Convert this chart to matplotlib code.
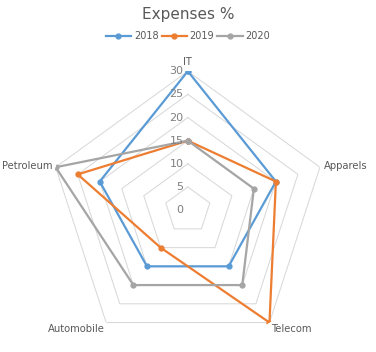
import numpy as np
import matplotlib.pyplot as plt
from matplotlib.transforms import offset_copy

# Datos
categories = ["IT", "Apparels", "Telecom", "Automobile", "Petroleum"]
years = ["2018", "2019", "2020"]
values_2018 = [30, 20, 15, 15, 20]
values_2019 = [15, 20, 30, 10, 25]
values_2020 = [15, 15, 20, 20, 30]
ticks = [0, 5, 10, 15, 20, 25, 30]
colors = ["#5B9BD5", "#ED7D31", "#A5A5A5"]

# Ángulos: IT arriba, sentido horario
n = len(categories)
angles = np.pi / 2 - 2 * np.pi * np.arange(n) / n
angles_closed = np.append(angles, angles[0])

fig = plt.figure(figsize=(3.76, 3.52), dpi=100)
ax = fig.add_axes([0.130, 0.008, 0.739, 0.790], projection="polar")
ax.set_ylim(0, 30)
ax.grid(False)
ax.spines["polar"].set_visible(False)
ax.set_xticks([])
ax.set_yticks([])

# Rejilla pentagonal
for t in ticks[1:]:
    ax.plot(angles_closed, [t] * (n + 1), color="#d9d9d9", linewidth=0.75, zorder=1)

# Series
for vals, year, c in zip([values_2018, values_2019, values_2020], years, colors):
    v = np.append(vals, vals[0])
    ax.plot(angles_closed, v, color=c, linewidth=1.6, marker="o", markersize=3.5,
            label=year, zorder=3)

# Etiquetas del eje radial
lab_tr = offset_copy(ax.transData, fig=fig, x=-3, y=0, units="points")
for t in ticks:
    ax.text(np.pi / 2, t, str(t), transform=lab_tr, ha="right", va="center",
            fontsize=8, color="#7f7f7f")

# Etiquetas de categorías
label_style = [("center", "center", 32), ("left", "center", 31),
               ("left", "top", 30.5), ("right", "top", 30.5), ("right", "center", 30.7)]
for a, cat, (ha, va, r) in zip(angles, categories, label_style):
    ax.text(a, r, cat, ha=ha, va=va, fontsize=7.2, color="#595959", clip_on=False)

# Título y leyenda
fig.text(0.5, 1 - 14 / 352, "Expenses %", ha="center", va="center",
         fontsize=11, color="#595959")
fig.legend(loc="center", bbox_to_anchor=(0.5, 1 - 36 / 352), ncol=3, frameon=False,
           fontsize=7, labelcolor="#595959", handlelength=2.6, columnspacing=0.3,
           handletextpad=0.3)

fig.savefig("out.png", dpi=100)
